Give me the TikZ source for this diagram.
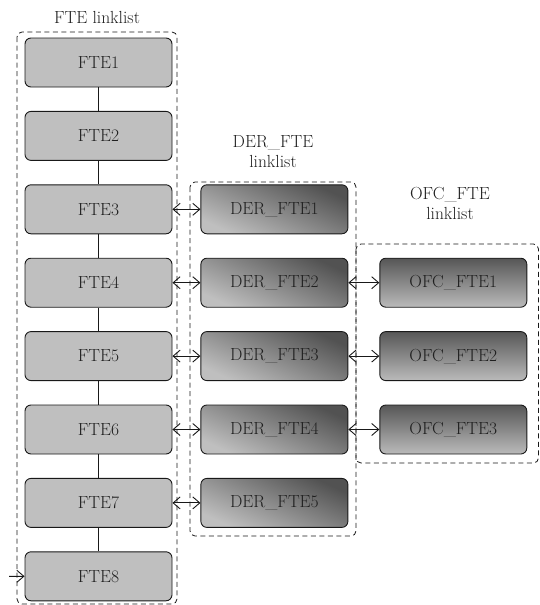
\documentclass[tikz,border=0pt]{standalone}
\usetikzlibrary{arrows.meta,positioning}

\begin{document}
\begin{tikzpicture}[x=1pt,y=-1pt,>={Straight Barb[length=7pt,width=12pt]},
    font=\fontsize{17.5}{20}\selectfont,
    entry/.style={draw=black!90,line width=0.9pt,rounded corners=6pt,
        minimum width=147pt,minimum height=49pt,inner sep=0pt,text=black!88},
    fte/.style={entry,fill=black!25},
    der/.style={entry,top color=black!68,bottom color=black!25,shading angle=-25},
    ofc/.style={entry,top color=black!66,bottom color=black!27},
    group/.style={draw=black!90,line width=0.8pt,dash pattern=on 5pt off 3.5pt,rounded corners=5pt},
    link/.style={draw=black!90,line width=0.9pt}]
    \useasboundingbox (0,0) rectangle (540,605);

    % dashed containers of the three lists
    \draw[group] (17,32) rectangle (177,604);
    \draw[group] (190,182) rectangle (356,536);
    \draw[group] (356,244) rectangle (538.5,463);

    % list titles
    \node[text=black!88] (ftetitle) at (97,17) {FTE linklist};
    \node[text=black!88,align=center] (dertitle) at (273,152) {DER\_FTE\\linklist};
    \node[text=black!88,align=center] (ofctitle) at (450,203) {OFC\_FTE\\linklist};

    % main list
    \foreach \i in {1,...,8}
        \node[fte] (f\i) at (98.5,{62.5+73.4*(\i-1)}) {FTE\i};
    \foreach \i [count=\j from 2] in {1,...,7}
        \draw[link] (f\i) -- (f\j);

    % DER_FTE entries next to FTE3..FTE7
    \foreach \i [evaluate=\i as \k using int(\i+2)] in {1,...,5}{
        \node[der,right=28pt of f\k] (d\i) {DER\_FTE\i};
        \draw[link,<->] (f\k) -- (d\i);
    }

    % OFC_FTE entries next to DER_FTE2..DER_FTE4
    \foreach \i [evaluate=\i as \k using int(\i+1)] in {1,...,3}{
        \node[ofc,right=31pt of d\k] (o\i) {OFC\_FTE\i};
        \draw[link,<->] (d\k) -- (o\i);
    }

    % entry into the last element
    \coordinate (in8) at (9,576.3);
    \draw[link,->] (in8) -- (f8);
\end{tikzpicture}
\end{document}
